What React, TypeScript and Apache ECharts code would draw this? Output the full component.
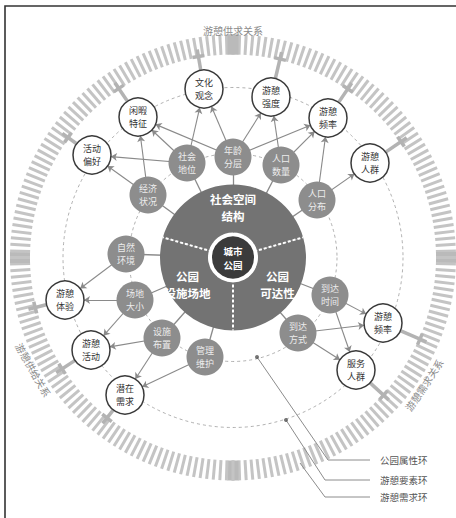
import React, { useEffect, useRef } from 'react';
import * as echarts from 'echarts';

const W = 456;
const H = 518;
const CX = 233;
const CY = 257.5;
const FONT = '"Noto Sans CJK SC", "Noto Sans", sans-serif';

// core + three sectors of the park attribute disc
const coreLabel = '城市\n公园';
const sectorNames = ['社会空间\n结构', '公园\n可达性', '公园\n设施场地'];
const sectorSpans = [148, 106, 106];
const sectorStart = 164;

// park attribute ring (grey nodes)
const attrNames = ['年龄分层', '社会地位', '人口数量', '经济状况', '人口分布', '自然环境', '场地大小', '设施布置', '管理维护', '到达时间', '到达方式'];
const attrX = [233, 187, 281, 148, 317, 126, 135, 162, 205, 330, 298];
const attrY = [157, 163, 165, 195, 200, 254, 300, 338, 357, 295, 333];

// recreation element ring (white nodes)
const needNames = ['活动偏好', '闲暇特征', '文化观念', '游憩强度', '游憩频率', '游憩人群', '游憩体验', '游憩活动', '潜在需求', '游憩频率', '服务人群'];
const needX = [92, 138, 204, 271, 328, 370, 65, 91, 125, 383, 356];
const needY = [155, 117, 89, 97, 118, 163, 300, 350, 395, 323, 370];

// arrows: [attribute index, element index]
const arrows: [number, number][] = [
  [0, 2], [0, 3], [0, 1], [0, 4],
  [1, 2], [1, 1], [1, 0],
  [3, 1], [3, 0],
  [2, 3], [2, 4],
  [4, 4], [4, 5],
  [5, 6],
  [6, 6], [6, 7],
  [7, 7], [7, 8],
  [8, 8],
  [9, 9], [9, 10],
  [10, 9], [10, 10],
];

// rings
const ringNames = ['公园属性环', '游憩要素环', '游憩需求环'];
const dashedRadii = [104, 170];
const stripeOuter = 223;
const stripeInner = 203;

// relation labels on the stripe ring: [text, angle(deg, screen), radius]
const relTexts = ['游憩供求关系', '游憩供给关系', '游憩需求关系'];
const relAngles = [-90, 150.6, 33.7];
const relRadii = [227.5, 229, 229.6];

// leader lines to ring names
const leaderPaths: number[][][] = [
  [[257, 357], [328, 460], [370, 460]],
  [[286, 420], [325, 480], [370, 480]],
  [[300, 463], [325, 497], [370, 497]],
];

const split2 = (s: string) => s.slice(0, 2) + '\n' + s.slice(2);

export default function App() {
  const ref = useRef<HTMLDivElement>(null);
  useEffect(() => {
    if (!ref.current) return;
    const chart = echarts.init(ref.current, undefined, { renderer: 'svg' });

    const nodes: any[] = [
      {
        name: 'core',
        value: [CX, CY],
        symbolSize: 46,
        itemStyle: { color: '#3b3b3b', borderColor: '#ffffff', borderWidth: 4 },
        label: { formatter: coreLabel, color: '#ffffff', fontSize: 9.5, lineHeight: 14, fontWeight: 'bold' },
      },
    ];
    attrNames.forEach((n, i) => {
      nodes.push({
        name: 'a' + i,
        value: [attrX[i], attrY[i]],
        symbolSize: 37,
        itemStyle: { color: '#8d8d8d' },
        label: { formatter: split2(n), color: '#ececec', fontSize: 9, lineHeight: 13.5 },
      });
    });
    needNames.forEach((n, i) => {
      nodes.push({
        name: 'n' + i,
        value: [needX[i], needY[i]],
        symbolSize: 38,
        itemStyle: { color: '#ffffff', borderColor: '#3a3a3a', borderWidth: 1.5 },
        label: { formatter: split2(n), color: '#333333', fontSize: 9, lineHeight: 13.5 },
      });
    });
    const links: any[] = [];
    attrNames.forEach((_, i) => {
      links.push({ source: 'core', target: 'a' + i, symbol: ['none', 'none'], lineStyle: { width: 1.3, color: '#8a8a8a' } });
    });
    arrows.forEach(([a, n]) => {
      links.push({ source: 'a' + a, target: 'n' + n });
    });

    // connectors from element nodes to stripe ring
    const connectors: any[] = [];
    needNames.forEach((_, i) => {
      const dx = needX[i] - CX;
      const dy = needY[i] - CY;
      const r = Math.hypot(dx, dy);
      const ux = dx / r;
      const uy = dy / r;
      const r0 = r + 19.5;
      const r1 = stripeInner + 8;
      connectors.push({ coords: [[CX + ux * r0, CY + uy * r0], [CX + ux * r1, CY + uy * r1]] });
      const px = CX + ux * (stripeInner + 1);
      const py = CY + uy * (stripeInner + 1);
      connectors.push({ coords: [[px - uy * 6, py + ux * 6], [px + uy * 6, py - ux * 6]] });
    });

    // divider angles from sector spans
    const bounds: number[] = [];
    let a = sectorStart;
    sectorSpans.forEach((s) => {
      bounds.push(a);
      a -= s;
    });

    const graphic: any[] = [];
    dashedRadii.forEach((r) => {
      graphic.push({
        type: 'circle',
        z: 1,
        silent: true,
        shape: { cx: CX, cy: CY, r },
        style: { fill: 'none', stroke: '#9c9c9c', lineWidth: 0.8, lineDash: [3, 3] },
      });
    });
    bounds.forEach((deg) => {
      const rad = (deg * Math.PI) / 180;
      graphic.push({
        type: 'line',
        z: 20,
        silent: true,
        shape: {
          x1: CX + 27 * Math.cos(rad),
          y1: CY - 27 * Math.sin(rad),
          x2: CX + 73 * Math.cos(rad),
          y2: CY - 73 * Math.sin(rad),
        },
        style: { stroke: '#ffffff', lineWidth: 2, lineDash: [3, 2] },
      });
    });
    relTexts.forEach((t, i) => {
      const th = (relAngles[i] * Math.PI) / 180;
      const x = CX + relRadii[i] * Math.cos(th);
      const y = CY + relRadii[i] * Math.sin(th);
      const rot = i === 0 ? 0 : -((relAngles[i] - 90) * Math.PI) / 180;
      graphic.push({
        type: 'text',
        z: 20,
        silent: true,
        x,
        y,
        rotation: rot,
        style: {
          text: t,
          fill: '#8a8a8a',
          font: `10px ${FONT}`,
          textAlign: 'center',
          textVerticalAlign: 'middle',
          align: 'center',
          verticalAlign: 'middle',
        },
      });
    });
    leaderPaths.forEach((p, i) => {
      const last = p[p.length - 1];
      graphic.push({
        type: 'text',
        z: 20,
        silent: true,
        x: last[0] + 10,
        y: last[1],
        style: {
          text: ringNames[i],
          fill: '#555555',
          font: `9.5px ${FONT}`,
          textAlign: 'left',
          textVerticalAlign: 'middle',
          align: 'left',
          verticalAlign: 'middle',
        },
      });
    });
    graphic.push({
      type: 'polyline',
      z: 20,
      silent: true,
      shape: { points: [[5, H], [5, 6], [W, 6]] },
      style: { fill: 'none', stroke: '#333333', lineWidth: 1.6 },
    });

    const labelOffsets = [
      { dx: 0, dy: 2 },
      { dx: 3, dy: -4.5 },
      { dx: -4, dy: -4.5 },
    ];

    chart.setOption({
      animation: false,
      textStyle: { fontFamily: FONT },
      grid: { left: 0, right: 0, top: 0, bottom: 0, containLabel: false },
      xAxis: { type: 'value', min: 0, max: W, show: false },
      yAxis: { type: 'value', min: 0, max: H, inverse: true, show: false },
      graphic,
      series: [
        {
          type: 'gauge',
          z: 1,
          silent: true,
          center: [CX, CY],
          radius: stripeOuter,
          startAngle: 90,
          endAngle: -270,
          min: 0,
          max: 4,
          splitNumber: 4,
          axisLine: { show: false, lineStyle: { width: 0 } },
          progress: { show: false },
          axisTick: {
            show: true,
            splitNumber: 53,
            distance: 0,
            length: stripeOuter - stripeInner,
            lineStyle: { color: '#c4c4c4', width: 3 },
          },
          splitLine: {
            show: true,
            distance: 0,
            length: stripeOuter - stripeInner,
            lineStyle: { color: '#bababa', width: 11 },
          },
          axisLabel: { show: false },
          pointer: { show: false },
          anchor: { show: false },
          title: { show: false },
          detail: { show: false },
          data: [{ value: 0 }],
        },
        {
          type: 'lines',
          z: 2,
          silent: true,
          coordinateSystem: 'cartesian2d',
          lineStyle: { color: '#b3b3b3', width: 3.5, opacity: 1 },
          data: connectors,
        },
        {
          type: 'lines',
          z: 2,
          silent: true,
          coordinateSystem: 'cartesian2d',
          polyline: true,
          lineStyle: { color: '#8c8c8c', width: 1, opacity: 1 },
          data: leaderPaths.map((p) => ({ coords: p })),
        },
        {
          type: 'graph',
          z: 3,
          coordinateSystem: 'cartesian2d',
          layout: 'none',
          silent: true,
          edgeSymbol: ['none', 'arrow'],
          edgeSymbolSize: [0, 6],
          label: { show: true, position: 'inside', fontFamily: FONT },
          lineStyle: { color: '#8a8a8a', width: 1.1, opacity: 1, curveness: 0 },
          emphasis: { disabled: true },
          data: nodes,
          links,
        },
        {
          type: 'pie',
          z: 4,
          silent: true,
          center: [CX, CY],
          radius: [25, 73],
          startAngle: sectorStart,
          clockwise: true,
          avoidLabelOverlap: false,
          itemStyle: { color: '#737373', borderWidth: 0 },
          label: {
            show: true,
            position: 'inside',
            formatter: '{b}',
            color: '#ffffff',
            fontSize: 11.5,
            lineHeight: 17,
            fontWeight: 'bold',
            fontFamily: FONT,
          },
          labelLine: { show: false },
          labelLayout: (p: any) => labelOffsets[p.dataIndex],
          emphasis: { disabled: true },
          data: sectorNames.map((n, i) => ({ name: n, value: sectorSpans[i] })),
        },
        {
          type: 'scatter',
          z: 5,
          silent: true,
          symbolSize: 4,
          itemStyle: { color: '#555555' },
          data: leaderPaths.slice(0, 2).map((p) => p[0]),
        },
      ],
    });
    return () => chart.dispose();
  }, []);
  return <div ref={ref} style={{ position: 'fixed', left: 0, top: 0, width: W, height: H, background: '#fff' }} />;
}
